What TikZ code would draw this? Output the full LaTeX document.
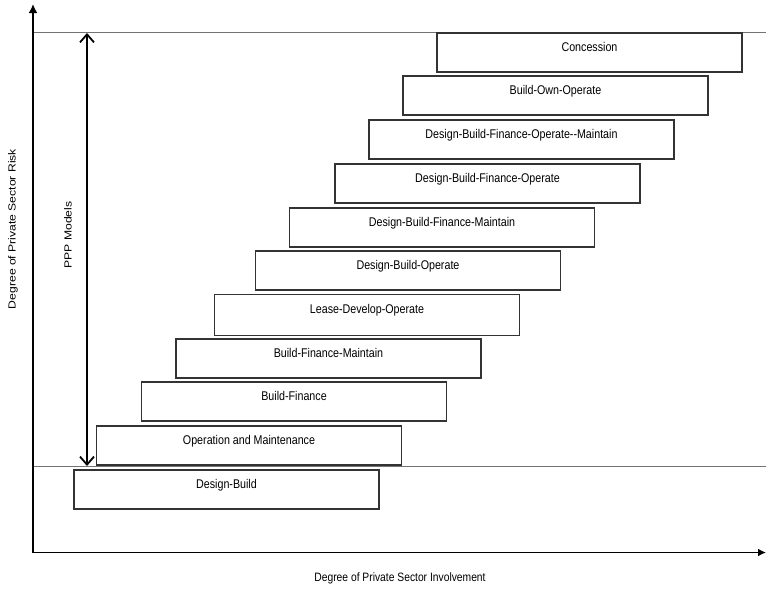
\documentclass[tikz,border=0pt]{standalone}
\usepackage{fontspec}
\setmainfont{Liberation Sans}
\usetikzlibrary{arrows.meta}

\begin{document}
\begin{tikzpicture}[x=1pt,y=-1pt,>=Latex,
    pppbox/.style={draw=black!80,line width=1.1pt,fill=white,yscale=1.18,minimum width=305pt,minimum height=33pt,
        text height=4pt,text depth=6pt,font=\fontsize{10.7}{12}\selectfont},
    axislabel/.style={font=\fontsize{10.3}{12}\selectfont}]
    \useasboundingbox (0,0) rectangle (766,590);
    % axes and level lines
    \coordinate (origin) at (33,552.5);
    \coordinate (ytip) at (33,4);
    \coordinate (xtip) at (766,552.5);
    \draw[black!55,line width=1pt] (33,32.7) -- (766,32.7);
    \draw[black!55,line width=1pt] (33,466.5) -- (766,466.5);
    \draw[->,line width=1.8pt,>={Latex[length=9pt,width=9pt]}] (origin) -- (ytip);
    \draw[->,line width=1.8pt,>={Latex[length=8pt,width=8pt]}] (origin) -- (xtip);
    % PPP range
    \coordinate (ppptop) at (87,33);
    \coordinate (pppbot) at (87,466);
    \draw[{Straight Barb[length=8pt,width=14pt]}-{Straight Barb[length=8pt,width=14pt]},line width=1.8pt] (ppptop) -- (pppbot);
    \node[axislabel,rotate=90,xscale=1.18] (ppp) at (68,235) {PPP Models};
    % models
    \node[pppbox] (conc) at (589.5,52.5) {Concession};
    \node[pppbox] (boo) at (555.5,95.5) {Build-Own-Operate};
    \node[pppbox] (dbfom) at (521.5,139.5) {Design-Build-Finance-Operate-{}-Maintain};
    \node[pppbox] (dbfo) at (487.5,183.5) {Design-Build-Finance-Operate};
    \node[pppbox] (dbfm) at (442,227.5) {Design-Build-Finance-Maintain};
    \node[pppbox] (dbo) at (408,270.5) {Design-Build-Operate};
    \node[pppbox,minimum height=35pt] (ldo) at (367,315) {Lease-Develop-Operate};
    \node[pppbox] (bfm) at (328.5,358.5) {Build-Finance-Maintain};
    \node[pppbox] (bf) at (294,401.5) {Build-Finance};
    \node[pppbox] (om) at (249,445.5) {Operation and Maintenance};
    \node[pppbox] (db) at (226.5,489.5) {Design-Build};
    % axis titles
    \node[axislabel,rotate=90,xscale=1.18] (risk) at (13,229) {Degree of Private Sector Risk};
    \node[axislabel,yscale=1.18] (involve) at (400,578) {Degree of Private Sector Involvement};
\end{tikzpicture}
\end{document}
